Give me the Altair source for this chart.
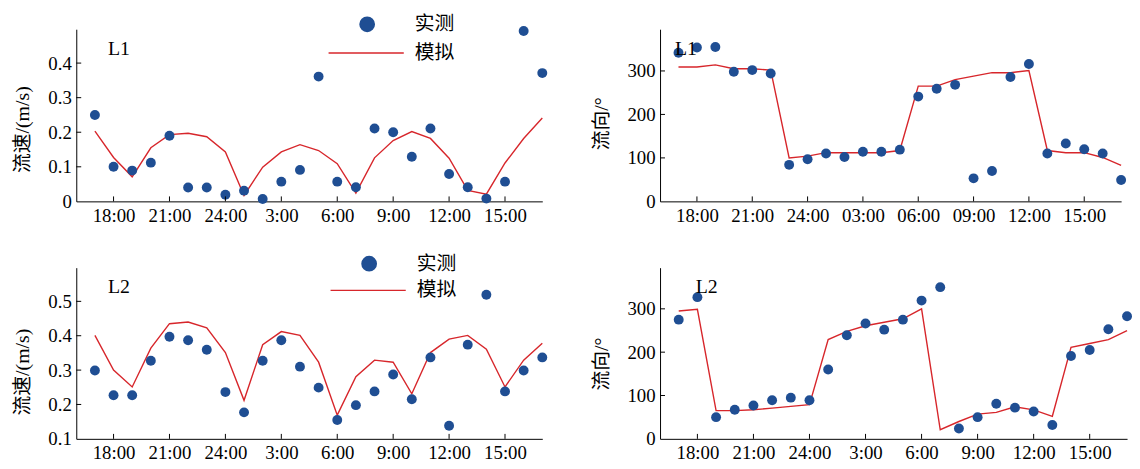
import altair as alt
import pandas as pd

# ---------------- data ----------------
HOURS = list(range(25))  # 0 = 17:00 day 1 ... 24 = 17:00 day 2
XTICK_VALUES = [1, 4, 7, 10, 13, 16, 19, 22]
XLABELS_A = ["18:00", "21:00", "24:00", "3:00", "6:00", "9:00", "12:00", "15:00"]
XLABELS_B = ["18:00", "21:00", "24:00", "03:00", "06:00", "09:00", "12:00", "15:00"]
SERIES = ["实测", "模拟"]
PANEL_LABELS = ["L1", "L1", "L2", "L2"]

l1_speed_obs = [0.25, 0.10, 0.089, 0.112, 0.19, 0.04, 0.04, 0.019, 0.031, 0.007, 0.057, 0.091, 0.361,
                0.057, 0.041, 0.211, 0.20, 0.129, 0.211, 0.079, 0.041, 0.008, 0.057, 0.493, 0.371]
l1_speed_sim = [0.203, 0.127, 0.071, 0.155, 0.193, 0.197, 0.187, 0.143, 0.017, 0.099, 0.143, 0.164, 0.147,
                0.109, 0.024, 0.126, 0.176, 0.202, 0.182, 0.125, 0.032, 0.021, 0.111, 0.182, 0.241]
l1_dir_obs = [342, 354, 355, 298, 302, 294, 84, 97, 110, 102, 114, 114, 119,
              241, 259, 268, 53, 70, 286, 316, 110, 133, 120, 110, 49]
l1_dir_sim = [309, 309, 314, 305, 305, 302, 100, 104, 112, 112, 112, 112, 117,
              265, 265, 280, 288, 296, 296, 301, 117, 112, 112, 101, 83]
l2_speed_obs = [0.299, 0.227, 0.227, 0.327, 0.397, 0.387, 0.359, 0.236, 0.177, 0.327, 0.387, 0.31, 0.249,
                0.155, 0.198, 0.238, 0.287, 0.215, 0.337, 0.138, 0.374, 0.519, 0.238, 0.299, 0.337]
l2_speed_sim = [0.401, 0.30, 0.251, 0.364, 0.435, 0.44, 0.423, 0.351, 0.212, 0.374, 0.412, 0.401, 0.323,
                0.169, 0.281, 0.329, 0.323, 0.231, 0.351, 0.39, 0.401, 0.361, 0.251, 0.329, 0.378]
l2_dir_obs = [275, 327, 50, 67, 77, 89, 95, 89, 160, 239, 266, 252, 275,
              319, 350, 24, 50, 81, 72, 63, 32, 191, 205, 253, 283]
l2_dir_sim = [295, 299, 65, 65, 67, 71, 75, 79, 229, 248, 261, 269, 277,
              300, 21, 40, 57, 61, 74, 67, 52, 211, 220, 229, 250]

BLUE = "#1f4e93"
RED = "#d7262b"
SERIF = "Liberation Serif"
CJK = "Liberation Serif, Noto Sans CJK SC"


def panel(obs, sim, ydomain, yticks, ytitle, title_y, xlabels, label, label_x,
          width, height, legend_pos=None, ylabel_expr=None):
    df = pd.DataFrame({"h": HOURS, "obs": obs, "sim": sim,
                       "s_obs": SERIES[0], "s_sim": SERIES[1]})
    label_expr = "[" + ",".join("'%s'" % s for s in xlabels) + "][(datum.value-1)/3]"
    x = alt.X("h:Q", scale=alt.Scale(domain=[-1, 24], nice=False, zero=False),
              axis=alt.Axis(values=XTICK_VALUES, labelExpr=label_expr, title=None,
                            labelFont=SERIF, labelFontSize=19, labelColor="black",
                            labelPadding=5, labelOverlap=False, labelFlush=False))
    yaxis_kw = dict(values=yticks, title=ytitle, titleY=title_y, labelPadding=5,
                    labelFont=SERIF, labelFontSize=19, labelColor="black",
                    titleFont=CJK, titleFontSize=20, titleFontWeight="normal", titleColor="black",
                    titlePadding=16, labelFlush=False, labelOverlap=False)
    if ylabel_expr:
        yaxis_kw["labelExpr"] = ylabel_expr
    yaxis = alt.Axis(**yaxis_kw)
    yscale = alt.Scale(domain=ydomain, nice=False, zero=False)

    if legend_pos is not None:
        lx, ly_c, ly_l = legend_pos
        leg_obs = alt.Legend(orient="none", legendX=lx, legendY=ly_c, title=None,
                             symbolType="circle", symbolSize=254, symbolStrokeWidth=0,
                             labelOffset=38, padding=0, labelFont="Noto Sans CJK SC",
                             labelFontSize=20, labelColor="black")
        leg_sim = alt.Legend(orient="none", legendX=lx - 30, legendY=ly_l, title=None,
                             symbolType="stroke", symbolSize=5776, symbolStrokeWidth=1.4,
                             labelOffset=10, padding=0, labelFont="Noto Sans CJK SC",
                             labelFontSize=20, labelColor="black")
    else:
        leg_obs = None
        leg_sim = None

    pts = alt.Chart(df).mark_circle(size=100, opacity=1).encode(
        x=x,
        y=alt.Y("obs:Q", scale=yscale, axis=yaxis),
        color=alt.Color("s_obs:N", scale=alt.Scale(domain=[SERIES[0]], range=[BLUE]), legend=leg_obs),
    )
    line = alt.Chart(df).mark_line(strokeWidth=1.4).encode(
        x=x,
        y=alt.Y("sim:Q", scale=yscale, axis=yaxis),
        stroke=alt.Stroke("s_sim:N", scale=alt.Scale(domain=[SERIES[1]], range=[RED]), legend=leg_sim),
    )
    xt = pd.DataFrame({"t": XTICK_VALUES})
    xticks = alt.Chart(xt).mark_rule(color="black", strokeWidth=1).encode(
        x=alt.X("t:Q", scale=alt.Scale(domain=[-1, 24], nice=False, zero=False)),
        y=alt.value(height), y2=alt.value(height - 5))
    yt = pd.DataFrame({"v": yticks[1:]})
    ytk = alt.Chart(yt).mark_rule(color="black", strokeWidth=1).encode(
        y=alt.Y("v:Q", scale=yscale), x=alt.value(0), x2=alt.value(5))
    txt = alt.Chart(pd.DataFrame({"t": [label]})).mark_text(
        align="left", baseline="alphabetic", font=SERIF, fontSize=20, color="black").encode(
        text="t:N", x=alt.value(label_x), y=alt.value(26))
    return alt.layer(line, pts, xticks, ytk, txt).properties(width=width, height=height)


p1 = panel(l1_speed_obs, l1_speed_sim, [0, 0.498], [0, 0.1, 0.2, 0.3, 0.4], "流速/(m/s)", 101,
           XLABELS_A, PANEL_LABELS[0], 32, 471, 174, legend_pos=(284, -15, -15),
           ylabel_expr="datum.value == 0 ? '0' : format(datum.value, '.1f')")
p2 = panel(l1_dir_obs, l1_dir_sim, [0, 396], [0, 100, 200, 300], "流向/°", 95,
           XLABELS_B, PANEL_LABELS[1], 15, 466, 174)
p3 = panel(l2_speed_obs, l2_speed_sim, [0.1, 0.598], [0.1, 0.2, 0.3, 0.4, 0.5], "流速/(m/s)", 105,
           XLABELS_A, PANEL_LABELS[2], 32, 471, 173, legend_pos=(286, -14, -16))
p4 = panel(l2_dir_obs, l2_dir_sim, [0, 395], [0, 100, 200, 300], "流向/°", 97,
           XLABELS_A, PANEL_LABELS[3], 36, 472, 173)

row1 = alt.hconcat(p1, p2, spacing=44).resolve_scale(color="independent", stroke="independent")
row2 = alt.hconcat(p3, p4, spacing=44).resolve_scale(color="independent", stroke="independent")

chart = alt.vconcat(row1, row2, spacing=27).resolve_scale(
    color="independent", stroke="independent").resolve_legend(
    color="independent", stroke="independent").properties(
    padding={"top": 4, "left": 4, "right": 0, "bottom": 0}).configure_view(
    stroke=None).configure_axis(
    domainColor="black", domainWidth=1, grid=False, ticks=False)

chart.save("out.html", embed_options={"renderer": "svg", "actions": False})
